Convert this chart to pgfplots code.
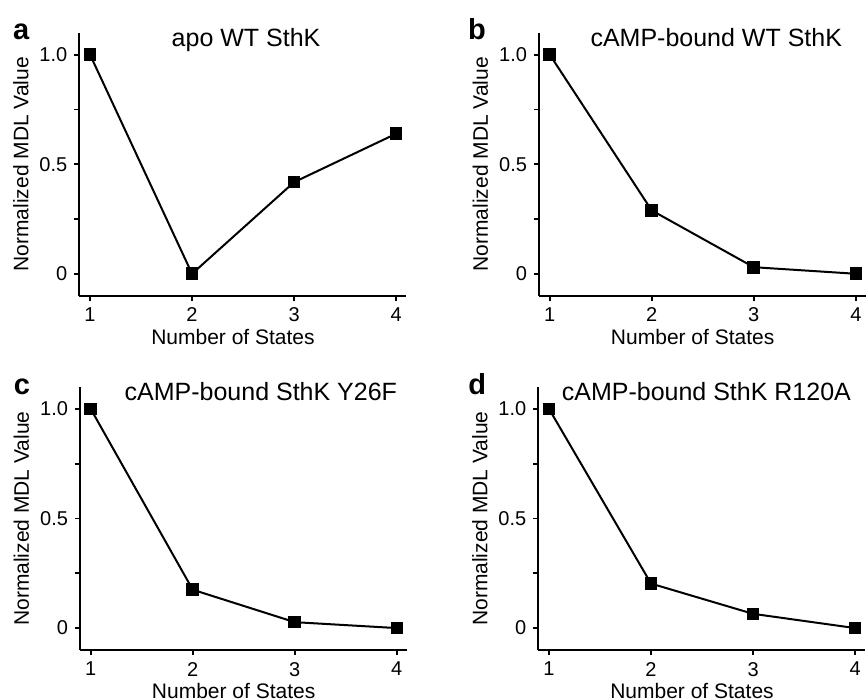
\documentclass[border=0pt]{standalone}
\usepackage{fontspec}
\setmainfont{Liberation Sans}
\usepackage{pgfplots}
\pgfplotsset{compat=1.18}

% shared look of the four MDL panels
\pgfplotsset{
    mdl/.style={
        scale only axis,
        width=163.5pt,
        height=131.5pt,
        xmin=0.895, xmax=4.1,
        ymin=-0.1, ymax=1.1,
        axis lines=left,
        axis line style={-, line width=1pt, black},
        xtick={1,2,3,4},
        ytick={0,0.5,1},
        yticklabels={0,0.5,1.0},
        minor ytick={0.25,0.75},
        tick align=outside,
        major tick length=2.5pt,
        minor tick length=2.5pt,
        every tick/.style={black, line width=0.9pt},
        /pgf/number format/assume math mode=true,
        tick label style={font=\fontsize{10}{12}\selectfont},
        label style={font=\fontsize{10.5}{12.5}\selectfont},
        xlabel={Number of States},
        ylabel={Normalized MDL Value},
        xlabel style={at={(rel axis cs:0.47,-0.184)}, anchor=base},
        ylabel style={at={(rel axis cs:-0.179,0.5)}, anchor=center},
        clip=false,
    },
    mdlline/.style={
        black, line width=1pt,
        mark=square*, mark size=2.9pt,
        mark options={solid, line width=0.5pt},
    },
}

\newcommand{\paneltitle}[2]{%
    \node[anchor=base, font=\fontsize{12.5}{15}\selectfont]
        at (rel axis cs:#1,0.948) {#2};}
\newcommand{\panelletter}[2]{%
    \node[anchor=base, xshift=#1, font=\bfseries\fontsize{14.5}{17}\selectfont]
        at (rel axis cs:0,0.973) {#2};}

\begin{document}
\begin{tikzpicture}
\path[use as bounding box] (0,0) rectangle (433pt,350pt);

% a: apo WT
\begin{axis}[mdl, at={(39.65pt,202.15pt)}, anchor=south west]
\addplot[mdlline] coordinates {(1,1.000) (2,0.000) (3,0.418) (4,0.639)};
\paneltitle{0.51}{apo WT SthK}
\panelletter{-29pt}{a}
\end{axis}

% b: cAMP-bound WT
\begin{axis}[mdl, at={(269.5pt,202.15pt)}, anchor=south west]
\addplot[mdlline] coordinates {(1,1.000) (2,0.289) (3,0.030) (4,0.000)};
\paneltitle{0.542}{cAMP-bound WT SthK}
\panelletter{-31pt}{b}
\end{axis}

% c: Y26F
\begin{axis}[mdl, at={(40pt,25pt)}, anchor=south west]
\addplot[mdlline] coordinates {(1,1.000) (2,0.175) (3,0.027) (4,0.000)};
\paneltitle{0.553}{cAMP-bound SthK Y26F}
\panelletter{-29pt}{c}
\end{axis}

% d: R120A
\begin{axis}[mdl, at={(269.15pt,25pt)}, anchor=south west]
\addplot[mdlline] coordinates {(1,1.000) (2,0.203) (3,0.065) (4,0.000)};
\paneltitle{0.514}{cAMP-bound SthK R120A}
\panelletter{-30.5pt}{d}
\end{axis}

\end{tikzpicture}
\end{document}
